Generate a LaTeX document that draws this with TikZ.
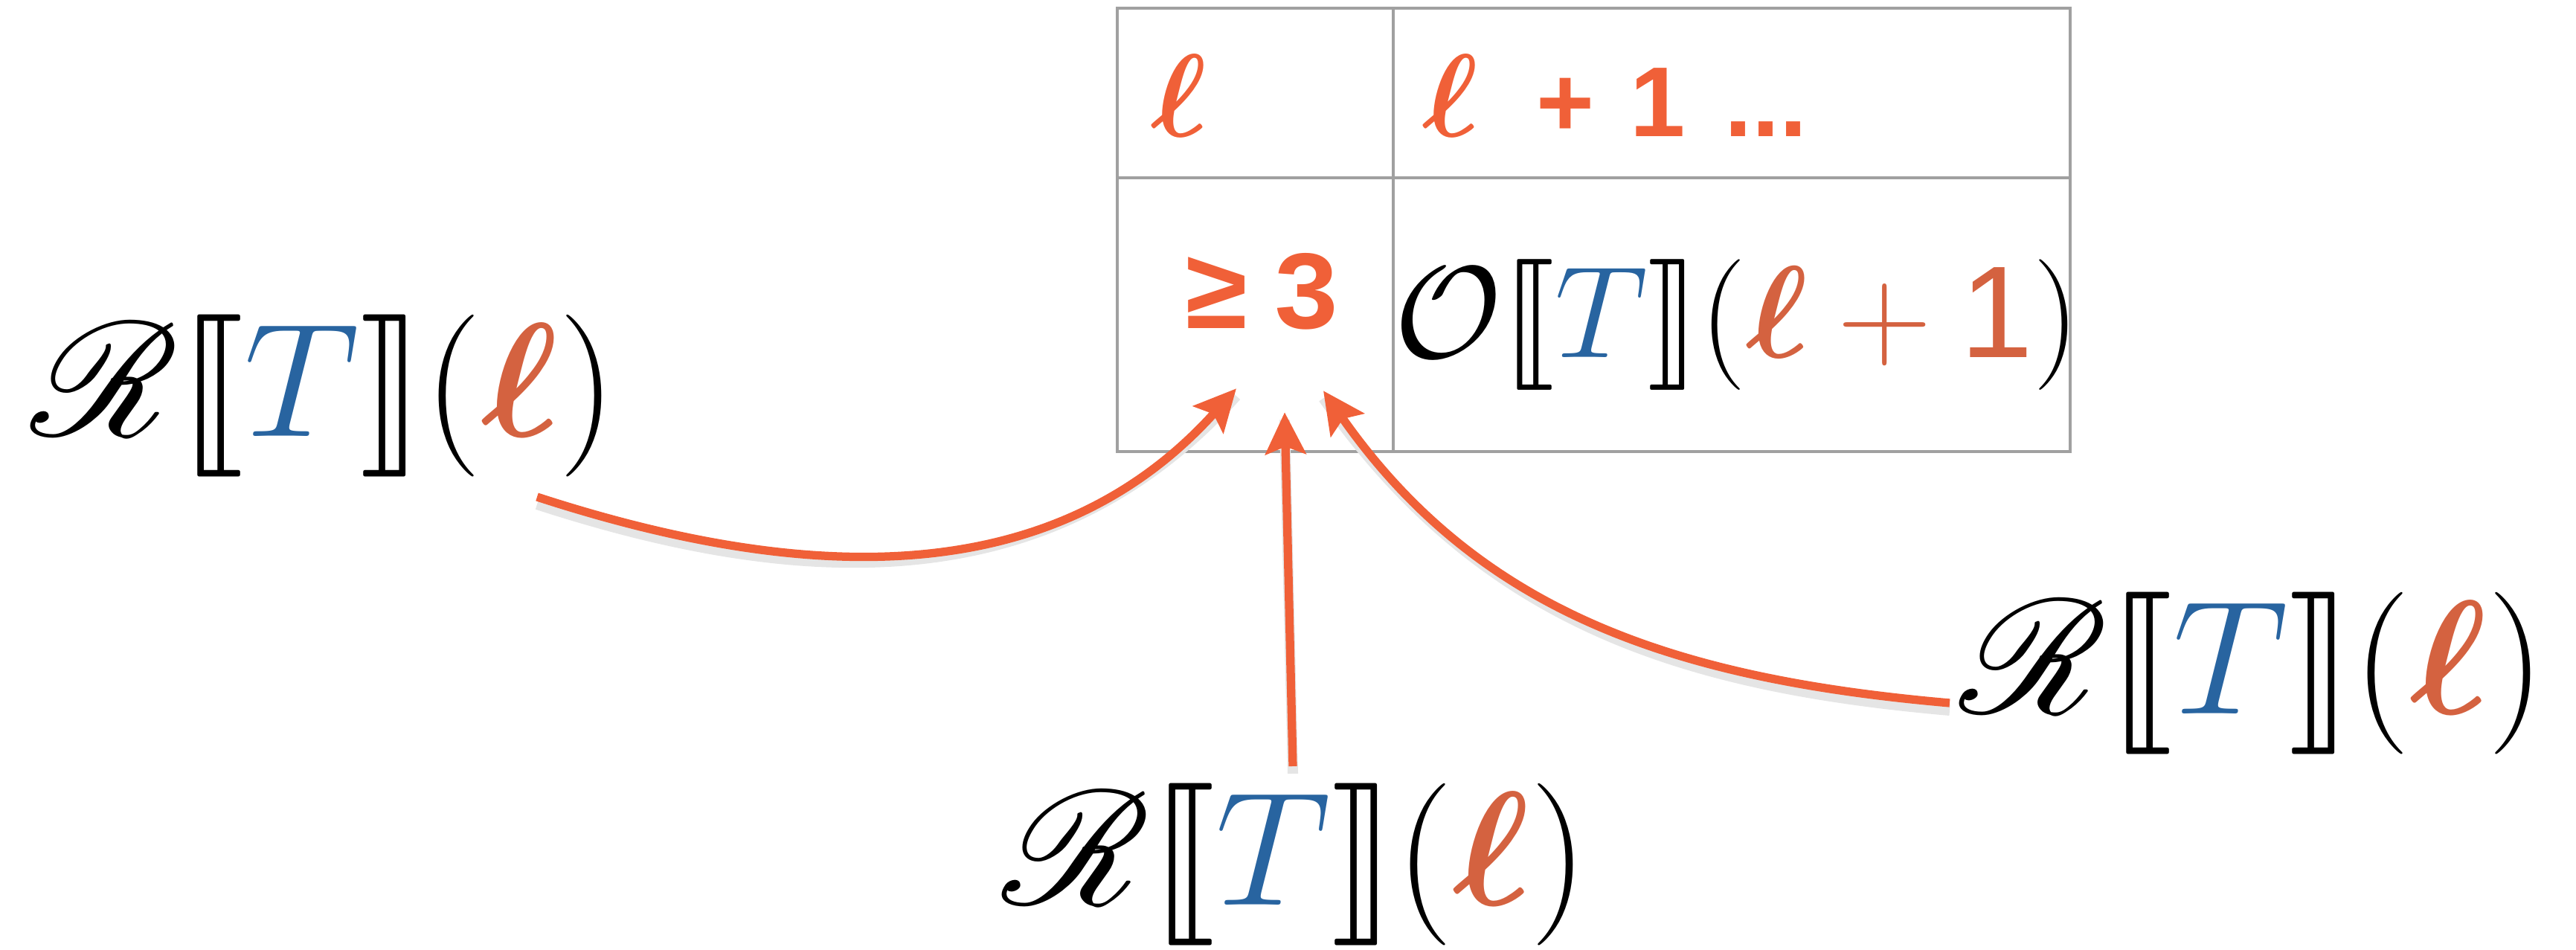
\RequirePackage{fix-cm}
\documentclass[tikz,border=0pt]{standalone}
\usepackage{amsmath,amssymb}
\usepackage{stmaryrd}
\usepackage{mathrsfs}
\usepackage{bm}
\usepackage{fontspec}
\usepackage{tikz}
\usetikzlibrary{arrows.meta,positioning,calc}
% scalable sizes for the script R and the brackets
\DeclareFontFamily{U}{rsfs}{\skewchar\font127 }
\DeclareFontShape{U}{rsfs}{m}{n}{<-> rsfs10}{}
\DeclareFontFamily{U}{stmry}{}
\DeclareFontShape{U}{stmry}{m}{n}{<-> stmary10}{}
\newfontfamily\headfont{Liberation Sans}
\newfontfamily\cellfont{Liberation Mono}
\definecolor{ellorange}{RGB}{240,96,56}
\definecolor{elldark}{RGB}{212,98,64}
\definecolor{termblue}{RGB}{40,100,160}
\definecolor{tblgray}{RGB}{160,160,160}
\newcommand{\reach}{\mathscr{R}\llbracket{\color{termblue}T}\rrbracket({\color{elldark}\bm{\ell}})}
\newcommand{\bigell}{{\fontsize{45}{45}\selectfont$\bm{\ell}$}}

\begin{document}
\begin{tikzpicture}[
    lbl/.style={inner sep=0pt, font=\fontsize{62}{64}\selectfont},
    hdr/.style={inner sep=0pt, anchor=base, text=ellorange, font=\headfont\bfseries\fontsize{38}{40}\selectfont},
    cell/.style={inner sep=0pt, font=\fontsize{50}{52}\selectfont},
    grid/.style={draw=tblgray, line width=1.3pt},
    arr/.style={-{Stealth[length=5.6mm,width=5.4mm,inset=1mm]}, line width=3.2pt, color=ellorange,
                preaction={draw=black!10, -, line width=4pt, transform canvas={yshift=-1mm}}}
]
    \useasboundingbox (0,0) rectangle (34.63,12.77);

    % Table
    \draw[grid] (15.02,6.70) rectangle (27.83,12.66);
    \draw[grid] (15.02,10.38) -- (27.83,10.38);
    \draw[grid] (18.73,6.70) -- (18.73,12.66);

    \node[hdr] (hell) at (15.85,10.93) {\bigell};
    \node[hdr, anchor=base west] (hnext) at (19.12,10.93)
        {\bigell\hspace{0.58em}+\hspace{0.36em}1\hspace{0.12em} ...};

    \node[cell, anchor=base, text=ellorange, font=\cellfont\bfseries\fontsize{43}{45}\selectfont] (geq) at (16.95,8.35)
        {≥\hspace{-0.4em} 3};
    \node[cell] (obs) at (23.35,8.40)
        {$\mathcal{O}\llbracket{\color{termblue}T}\rrbracket({\color{elldark}\bm{\ell}+\text{\headfont 1}})$};

    % Labels
    \node[lbl] (rleft) at (4.35,7.45) {$\reach$};
    \node[lbl] (rbottom) at (17.41,1.15) {$\reach$};
    \node[lbl] (rright) at (30.28,3.72) {$\reach$};

    % Arrows
    \draw[arr] ($(rleft)+(2.87,-1.36)$) to[out=-18, in=-132] ($(geq)+(-0.33,-1.30)$);
    \draw[arr] ($(rbottom)+(-0.03,1.32)$) -- ($(geq)+(0.32,-1.62)$);
    \draw[arr] ($(rright)+(-4.07,-0.40)$) to[out=175, in=-55] ($(geq)+(0.84,-1.33)$);
\end{tikzpicture}
\end{document}
